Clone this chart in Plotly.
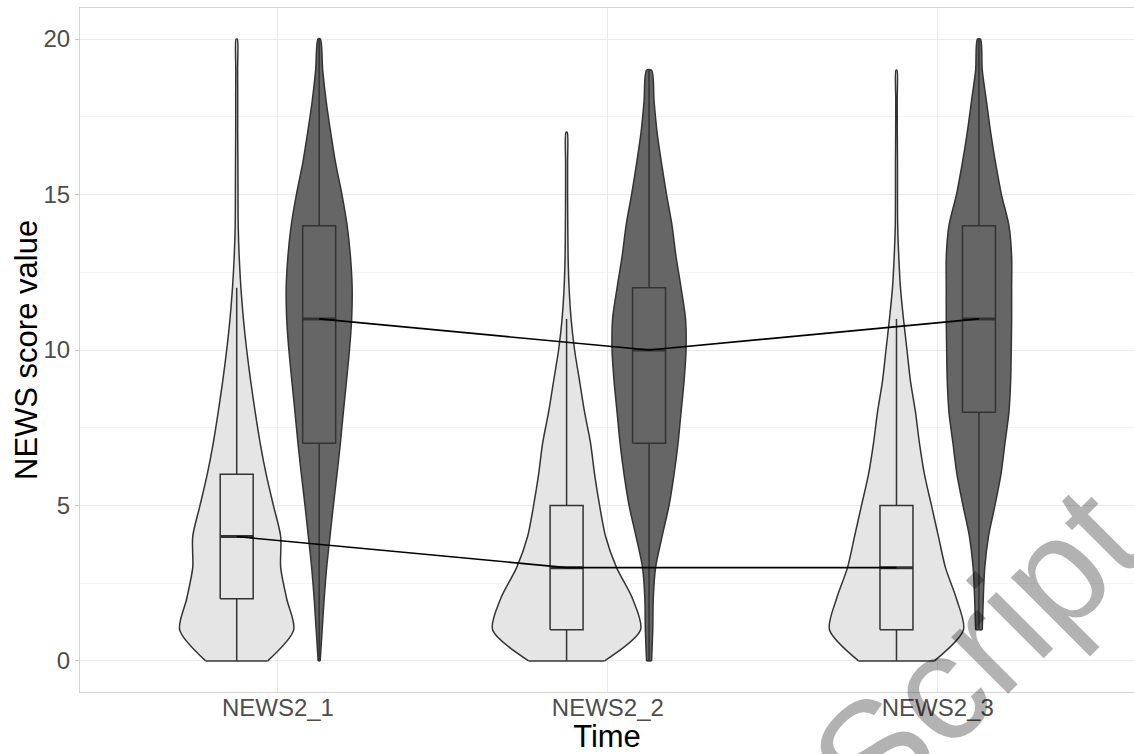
import plotly.graph_objects as go

# ---------------- data ----------------
categories = ["NEWS2_1", "NEWS2_2", "NEWS2_3"]
y_tick_values = [0, 5, 10, 15, 20]
y_minor_values = [2.5, 7.5, 12.5, 17.5]

# score levels at which each violin outline was read
levels_light1 = list(range(0, 21))
levels_light2 = list(range(0, 18))
levels_light3 = list(range(0, 20))
levels_dark1 = list(range(0, 21))
levels_dark2 = list(range(0, 20))
levels_dark3 = list(range(1, 21))

# violin density (relative half-width units) at each level
density_light1 = [31, 57, 50, 44, 44, 36.7, 29.5, 23.5, 18.5, 14, 10, 6.7, 4.2, 2.5, 1.5, 1.3, 1.2, 1, 1, 0.9, 0.6]
density_light2 = [38, 74, 66, 50, 39, 33, 28, 24, 18, 13, 8, 4.5, 2.5, 1.5, 1.2, 1, 1, 0.6]
density_light3 = [38, 67, 60, 49, 42, 35, 28, 23, 19, 14, 10.5, 7, 4, 2.3, 1.2, 1, 1, 0.8, 0.7, 0.5]
density_dark1 = [1, 3, 5, 7.5, 10.8, 14.2, 17.8, 21.2, 24.2, 27.3, 30.3, 32.5, 33, 31.3, 28, 22.8, 16.5, 11.5, 7, 3.5, 1.2]
density_dark2 = [2.5, 3.7, 4.2, 6.5, 13, 20, 25, 29, 32, 35, 37, 36.5, 32, 27, 23, 17.5, 12.5, 8, 5, 2.5]
density_dark3 = [3.3, 4.3, 5.8, 9.5, 16, 22, 26, 30, 31.7, 32.3, 32.7, 32.7, 32.7, 30, 22.5, 16.7, 11.7, 7.5, 3.3, 1.5]

# boxplot statistics (light group / dark group)
light_q1 = [2, 1, 1]
light_median = [4, 3, 3]
light_q3 = [6, 5, 5]
light_low = [0, 0, 0]
light_high = [12, 11, 11]

dark_q1 = [7, 7, 8]
dark_median = [11, 10, 11]
dark_q3 = [14, 12, 14]
dark_low = [0, 0, 1]
dark_high = [20, 19, 20]

# ---------------- styling ----------------
DODGE = 0.125
DENSITY_SCALE = 1 / 330.0
BOX_WIDTH = 0.1
LIGHT_FILL = "#e5e5e5"
DARK_FILL = "#666666"
OUTLINE = "#333333"
FONT = "Liberation Sans, Arial, sans-serif"

cat_pos = [1, 2, 3]
light_x = [c - DODGE for c in cat_pos]
dark_x = [c + DODGE for c in cat_pos]

fig = go.Figure()

violins = [
    (light_x[0], levels_light1, density_light1, LIGHT_FILL),
    (light_x[1], levels_light2, density_light2, LIGHT_FILL),
    (light_x[2], levels_light3, density_light3, LIGHT_FILL),
    (dark_x[0], levels_dark1, density_dark1, DARK_FILL),
    (dark_x[1], levels_dark2, density_dark2, DARK_FILL),
    (dark_x[2], levels_dark3, density_dark3, DARK_FILL),
]
for center, lv, dn, fill in violins:
    hw = [d * DENSITY_SCALE for d in dn]
    xs = [center + h for h in hw] + [center - h for h in reversed(hw)]
    ys = list(lv) + list(reversed(lv))
    fig.add_trace(go.Scatter(
        x=xs, y=ys, mode="lines", fill="toself", fillcolor=fill,
        line=dict(color=OUTLINE, width=1.5, shape="spline", smoothing=0.8),
        hoverinfo="skip", showlegend=False))
    fig.add_trace(go.Scatter(
        x=[center - hw[0], center + hw[0]], y=[lv[0], lv[0]], mode="lines",
        line=dict(color=OUTLINE, width=1.5), hoverinfo="skip", showlegend=False))

# boxplots (drawn as scatter so they sit above the violins)
for xs, q1, med, q3, lo, hi, fill in [
    (light_x, light_q1, light_median, light_q3, light_low, light_high, LIGHT_FILL),
    (dark_x, dark_q1, dark_median, dark_q3, dark_low, dark_high, DARK_FILL),
]:
    bx, by, wx, wy, mx, my = [], [], [], [], [], []
    for x0, a, m, b, l, h in zip(xs, q1, med, q3, lo, hi):
        x_l, x_r = x0 - BOX_WIDTH / 2, x0 + BOX_WIDTH / 2
        bx += [x_l, x_r, x_r, x_l, x_l, None]
        by += [a, a, b, b, a, None]
        wx += [x0, x0, None, x0, x0, None]
        wy += [l, a, None, b, h, None]
        mx += [x_l, x_r, None]
        my += [m, m, None]
    fig.add_trace(go.Scatter(x=wx, y=wy, mode="lines",
                             line=dict(color=OUTLINE, width=1.5),
                             hoverinfo="skip", showlegend=False))
    fig.add_trace(go.Scatter(x=bx, y=by, mode="lines", fill="toself", fillcolor=fill,
                             line=dict(color=OUTLINE, width=1.5),
                             hoverinfo="skip", showlegend=False))
    fig.add_trace(go.Scatter(x=mx, y=my, mode="lines",
                             line=dict(color=OUTLINE, width=3),
                             hoverinfo="skip", showlegend=False))

# median connecting lines
for xs, med in [(light_x, light_median), (dark_x, dark_median)]:
    fig.add_trace(go.Scatter(x=xs, y=med, mode="lines",
                             line=dict(color="black", width=1.6),
                             hoverinfo="skip", showlegend=False))

PLOT_L, PLOT_T, PLOT_W, PLOT_H = 80, 8, 1054, 684
fig.update_layout(
    width=1134, height=754,
    margin=dict(l=PLOT_L, r=0, t=PLOT_T, b=62),
    plot_bgcolor="white", paper_bgcolor="white",
    showlegend=False,
    font=dict(family=FONT),
    annotations=[
        dict(text="NEWS score value", xref="paper", yref="paper",
             x=(26 - PLOT_L) / PLOT_W, y=0.5, xanchor="center", yanchor="middle",
             showarrow=False, textangle=-90,
             font=dict(family=FONT, size=31, color="black")),
        dict(text="Script", xref="paper", yref="paper",
             x=(975 - PLOT_L) / PLOT_W, y=(PLOT_T + PLOT_H - 652) / PLOT_H,
             xanchor="center", yanchor="middle",
             showarrow=False, textangle=-45,
             font=dict(family=FONT, size=152, color="rgba(0,0,0,0.3)")),
    ],
)

fig.update_xaxes(
    range=[0.4, 3.595], tickmode="array", tickvals=cat_pos, ticktext=categories,
    showgrid=True, gridcolor="#ebebeb", gridwidth=1, zeroline=False,
    showline=True, mirror=True, linecolor="#d4d4d4", linewidth=1,
    ticks="", ticklabelstandoff=-6,
    tickfont=dict(size=24, color="#4d4d4d", family=FONT),
    title=dict(text="Time", font=dict(size=31, color="black", family=FONT), standoff=2),
)
fig.update_yaxes(
    range=[-1, 21], tickmode="array", tickvals=y_tick_values,
    showgrid=True, gridcolor="#ebebeb", gridwidth=1, zeroline=False,
    minor=dict(tickmode="array", tickvals=y_minor_values, showgrid=True,
               gridcolor="#f4f4f4", ticks=""),
    showline=True, mirror=True, linecolor="#d4d4d4", linewidth=1,
    ticks="outside", ticklen=4, tickcolor="#c8c8c8",
    tickfont=dict(size=24, color="#4d4d4d", family=FONT),
)

fig.write_html("out.html", config={"displayModeBar": False},
               post_script="document.body.style.margin='0';")
